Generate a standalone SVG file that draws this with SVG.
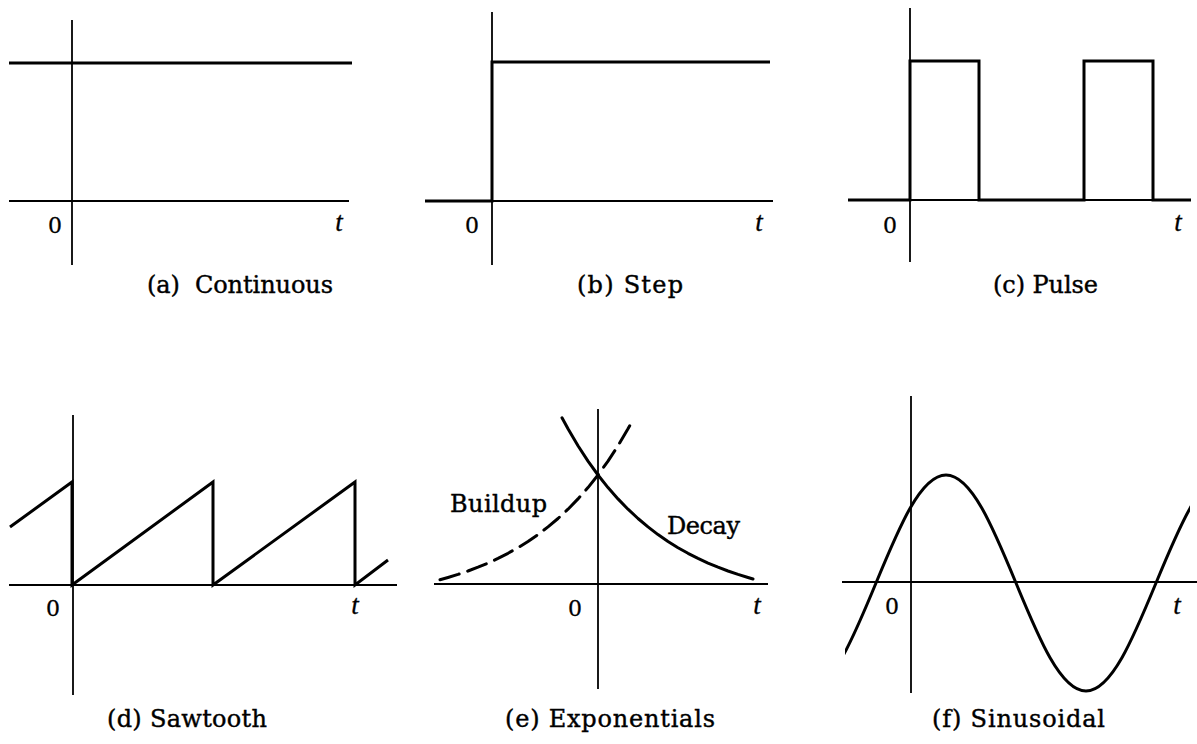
<svg xmlns="http://www.w3.org/2000/svg" width="1197" height="744" viewBox="0 0 1197 744">
<defs>
<style>
.ax{stroke:#000;stroke-width:1.8;fill:none}
.sg{stroke:#000;stroke-width:3;fill:none;stroke-linejoin:miter}
.cv{stroke:#000;stroke-width:3;fill:none;stroke-linejoin:round;stroke-linecap:round}
.cap{font-family:"DejaVu Serif","Liberation Serif",serif;font-size:24px;fill:#000;stroke:#000;stroke-width:0.4}
.lbl{font-family:"DejaVu Serif","Liberation Serif",serif;font-size:24px;fill:#000;stroke:#000;stroke-width:0.4}
.z{font-family:"DejaVu Serif","Liberation Serif",serif;font-size:22px;fill:#000;stroke:#000;stroke-width:0.3;text-anchor:middle}
.t{font-family:"Liberation Serif","DejaVu Serif",serif;font-style:italic;font-size:27px;fill:#000;stroke:#000;stroke-width:0.3;text-anchor:middle}
</style>
<clipPath id="clipSin"><rect x="845" y="380" width="345" height="340"/></clipPath>
</defs>
<rect width="1197" height="744" fill="#fff"/>

<g id="panel-a">
<line class="ax" x1="72" y1="20" x2="72" y2="265"/>
<line class="ax" x1="9" y1="201" x2="349" y2="201"/>
<line class="sg" x1="9" y1="63" x2="352" y2="63"/>
<text class="z" x="55" y="233">0</text>
<text class="t" x="339" y="231">t</text>
<text class="cap" x="147" y="293" textLength="186" lengthAdjust="spacing" xml:space="preserve">(a)  Continuous</text>
</g>

<g id="panel-b">
<line class="ax" x1="492" y1="12" x2="492" y2="265"/>
<line class="ax" x1="492" y1="201" x2="773" y2="201"/>
<polyline class="sg" points="425,201 492,201 492,62 770,62"/>
<text class="z" x="472" y="233">0</text>
<text class="t" x="759" y="231">t</text>
<text class="cap" x="577" y="293" textLength="106" lengthAdjust="spacing">(b) Step</text>
</g>

<g id="panel-c">
<line class="ax" x1="910" y1="8" x2="910" y2="262"/>
<line class="ax" x1="848" y1="200" x2="1191" y2="200"/>
<polyline class="sg" points="848,200 910,200 910,61 979,61 979,200 1084,200 1084,61 1153,61 1153,200 1191,200"/>
<text class="z" x="890" y="233">0</text>
<text class="t" x="1178" y="231">t</text>
<text class="cap" x="993" y="293" textLength="105" lengthAdjust="spacing">(c) Pulse</text>
</g>

<g id="panel-d">
<line class="ax" x1="73" y1="415" x2="73" y2="695"/>
<line class="ax" x1="9" y1="585" x2="397" y2="585"/>
<polyline class="sg" points="10,527 72,482 72,585 213,482 213,585 355,482 355,585 388,560"/>
<text class="z" x="53" y="616">0</text>
<text class="t" x="355" y="614">t</text>
<text class="cap" x="107" y="727" textLength="160" lengthAdjust="spacing">(d) Sawtooth</text>
</g>

<g id="panel-e">
<line class="ax" x1="598" y1="409" x2="598" y2="689"/>
<line class="ax" x1="434" y1="584" x2="768" y2="584"/>
<polyline id="decay" class="cv" points="562,417.8 568,428.8 578,445.8 588,461.1 598,475 608,487.6 618,498.9 628,509.2 638,518.5 648,526.9 658,534.6 668,541.5 678,547.7 688,553.3 698,558.4 708,563.1 718,567.2 728,571 738,574.4 748,577.5 753,579"/>
<polyline id="buildup" class="cv" stroke-linecap="butt" stroke-dasharray="20 9" points="440,579.8 448,577.5 458,574.4 468,571 478,567.2 488,563.1 498,558.4 508,553.3 518,547.7 528,541.5 538,534.6 548,526.9 558,518.5 568,509.2 578,498.9 588,487.6 598,475 608,461.1 618,445.8 628,428.8 631,423.4"/>
<text class="lbl" x="450" y="512" textLength="97" lengthAdjust="spacing">Buildup</text>
<text class="lbl" x="667" y="534" textLength="73" lengthAdjust="spacing">Decay</text>
<text class="z" x="575" y="616">0</text>
<text class="t" x="757" y="614">t</text>
<text class="cap" x="505" y="727" textLength="210" lengthAdjust="spacing">(e) Exponentials</text>
</g>

<g id="panel-f">
<line class="ax" x1="911" y1="396" x2="911" y2="693"/>
<line class="ax" x1="842" y1="582" x2="1197" y2="582"/>
<path class="cv" clip-path="url(#clipSin)" d="M806,691 C831.34,691 853.17,638.3 876,583 C898.83,527.7 920.66,475 946,475 C971.34,475 993.17,527.7 1016,583 C1038.83,638.3 1060.66,691 1086,691 C1111.34,691 1133.17,638.3 1156,583 C1178.83,527.7 1200.66,475 1226,475"/>
<text class="z" x="892" y="614">0</text>
<text class="t" x="1177" y="614">t</text>
<text class="cap" x="932" y="727" textLength="173" lengthAdjust="spacing">(f) Sinusoidal</text>
</g>
</svg>
